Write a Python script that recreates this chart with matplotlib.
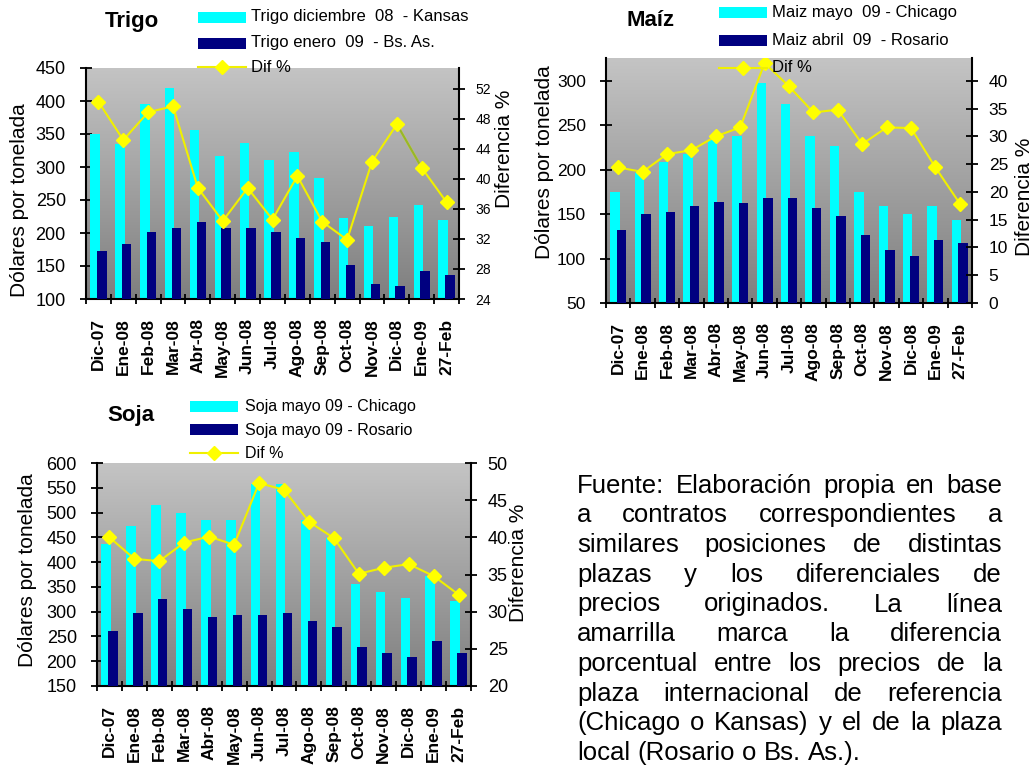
import numpy as np
import matplotlib
matplotlib.use("Agg")
import matplotlib.pyplot as plt
from matplotlib.colors import LinearSegmentedColormap
from matplotlib.patches import Rectangle
from matplotlib.lines import Line2D
from matplotlib.font_manager import FontProperties

plt.rcParams['font.family'] = ['Liberation Sans', 'DejaVu Sans']

# ---------------- data ----------------
categories = ['Dic-07', 'Ene-08', 'Feb-08', 'Mar-08', 'Abr-08', 'May-08', 'Jun-08',
              'Jul-08', 'Ago-08', 'Sep-08', 'Oct-08', 'Nov-08', 'Dic-08', 'Ene-09', '27-Feb']

trigo_kansas = [350, 335, 395, 419, 356, 317, 337, 310, 322, 283, 222, 210, 225, 243, 219]
trigo_bsas = [173, 183, 201, 207, 216, 207, 207, 201, 192, 186, 152, 122, 119, 143, 137]
trigo_dif = [50.3, 45.2, 48.9, 49.7, 38.8, 34.4, 38.8, 34.6, 40.4, 34.3, 31.9, 42.3, 47.3, 41.5, 36.9]

maiz_chicago = [175, 196, 209, 218, 233, 238, 297, 274, 238, 227, 175, 159, 150, 159, 143]
maiz_rosario = [132, 150, 152, 159, 164, 162, 168, 168, 157, 148, 126, 110, 103, 121, 117]
maiz_dif = [24.4, 23.6, 26.8, 27.5, 30.0, 31.6, 43.2, 39.0, 34.3, 34.8, 28.6, 31.6, 31.5, 24.4, 17.9]

soja_chicago = [436, 472, 516, 500, 484, 484, 558, 558, 484, 448, 355, 339, 327, 371, 322]
soja_rosario = [261, 298, 326, 306, 289, 294, 294, 298, 282, 269, 229, 217, 209, 241, 217]
soja_dif = [40.0, 37.1, 36.8, 39.3, 40.1, 39.0, 47.3, 46.4, 42.1, 39.9, 35.1, 35.9, 36.4, 34.8, 32.3]

trigo_left_ticks = list(range(100, 451, 50))
trigo_right_ticks = list(range(24, 53, 4))
maiz_left_ticks = list(range(50, 301, 50))
maiz_right_ticks = list(range(0, 41, 5))
soja_left_ticks = list(range(150, 601, 50))
soja_right_ticks = list(range(20, 51, 5))

trigo_labels = ['Trigo diciembre  08  - Kansas', 'Trigo enero  09  - Bs. As.', 'Dif %']
maiz_labels = ['Maiz mayo  09 - Chicago', 'Maiz abril  09  - Rosario', 'Dif %']
soja_labels = ['Soja mayo 09 - Chicago', 'Soja mayo 09 - Rosario', 'Dif %']

paragraph = ("Fuente: Elaboración propia en base a contratos correspondientes a "
             "similares posiciones de distintas plazas y los diferenciales de "
             "precios originados. La línea amarrilla marca la diferencia "
             "porcentual entre los precios de la plaza internacional de referencia "
             "(Chicago o Kansas) y el de la plaza local (Rosario o Bs. As.).")
paragraph_lines = [
    "Fuente: Elaboración propia en base",
    "a contratos correspondientes a",
    "similares posiciones de distintas",
    "plazas y los diferenciales de",
    "precios originados. La línea",
    "amarrilla marca la diferencia",
    "porcentual entre los precios de la",
    "plaza internacional de referencia",
    "(Chicago o Kansas) y el de la plaza",
    "local (Rosario o Bs. As.).",
]

# ---------------- style ----------------
W, H = 1034, 773
CYAN = '#00ffff'
NAVY = '#000080'
YEL = '#ffff00'
LINE_YEL = '#f0f000'
grad_cmap = LinearSegmentedColormap.from_list('g', ['#c4c4c4', '#7f7f7f'])

fig = plt.figure(figsize=(W / 100, H / 100), dpi=100)


def fx(x):
    return x / W


def fy(y):
    return 1 - y / H


def make_panel(rect, title, title_xy, legend_cfg, chicago, local, dif,
               lticks, rticks, lylim, rylim, lsize, rsize,
               ylab_xy, rlab_xy, olive=None):
    l, t, r, b = rect
    ax = fig.add_axes([fx(l), fy(b), (r - l) / W, (b - t) / H])
    x = np.arange(len(categories))
    ax.imshow(np.linspace(0, 1, 256).reshape(-1, 1), extent=(0, 1, 0, 1),
              transform=ax.transAxes, cmap=grad_cmap, aspect='auto', zorder=0)
    ax.bar(x - 0.135, chicago, width=0.38, color=CYAN, zorder=2)
    ax.bar(x + 0.135, local, width=0.38, color=NAVY, zorder=3)
    ax.set_xlim(-0.5, len(categories) - 0.5)
    ax.set_ylim(*lylim)
    ax.set_yticks(lticks)
    ax.set_xticks(np.arange(-0.5, len(categories), 1))
    ax.set_xticklabels([])
    ax.set_xticks(x, minor=True)
    ax.set_xticklabels(categories, minor=True, rotation=90, fontsize=12.5,
                       fontweight='bold')
    ax.tick_params(axis='x', which='major', direction='inout', length=7, width=1.3)
    ax.tick_params(axis='x', which='minor', length=0, pad=14)
    ax.tick_params(axis='y', direction='inout', length=8, width=1.3, pad=10.5,
                   labelsize=lsize)
    for s in ['top', 'right']:
        ax.spines[s].set_visible(False)
    for s in ['left', 'bottom']:
        ax.spines[s].set_linewidth(1.5)

    ax2 = ax.twinx()
    ax2.plot(x, dif, color=LINE_YEL, lw=1.5, zorder=3)
    if olive is not None:
        i0, i1 = olive
        ax2.plot(x[i0:i1 + 1], dif[i0:i1 + 1], color='#95b52e', lw=1.5, zorder=4)
    ax2.plot(x, dif, ls='none', marker='D', ms=7.5, color=YEL, mec=YEL, zorder=5)
    ax2.set_ylim(*rylim)
    ax2.set_yticks(rticks)
    ax2.tick_params(axis='y', direction='inout', length=8, width=1.3, pad=8,
                    labelsize=rsize)
    for s in ['top', 'left', 'bottom']:
        ax2.spines[s].set_visible(False)
    ax2.spines['right'].set_linewidth(1.5)

    fig.text(fx(title_xy[0]), fy(title_xy[1]), title, fontsize=16, fontweight='bold',
             ha='left', va='center')
    fig.text(fx(ylab_xy[0]), fy(ylab_xy[1]), 'Dólares por tonelada', fontsize=15,
             rotation=90, ha='center', va='center')
    fig.text(fx(rlab_xy[0]), fy(rlab_xy[1]), 'Diferencia %', fontsize=15,
             rotation=90, ha='center', va='center')

    # legend
    px0, px1, ys, tx, labels, lfs = legend_cfg
    for col, yc in zip([CYAN, NAVY], ys[:2]):
        fig.add_artist(Rectangle((fx(px0), fy(yc + 5.5)), (px1 - px0) / W, 11 / H,
                                 transform=fig.transFigure, color=col, lw=0))
    fig.add_artist(Line2D([fx(px0), fx(px1)], [fy(ys[2])] * 2,
                          transform=fig.transFigure, color=LINE_YEL, lw=1.5))
    fig.add_artist(Line2D([fx((px0 + px1) / 2)], [fy(ys[2])], marker='D', ms=7.5,
                          color=YEL, mec=YEL, ls='none', transform=fig.transFigure))
    for lab, yc in zip(labels, ys):
        fig.text(fx(tx), fy(yc), lab, fontsize=lfs, ha='left', va='center')
    return ax, ax2


make_panel((86, 68, 459, 299), 'Trigo', (105, 22),
           (198, 246, (17, 43, 67), 251, trigo_labels, 12),
           trigo_kansas, trigo_bsas, trigo_dif,
           trigo_left_ticks, trigo_right_ticks, (100, 450), (24, 54.8), 13, 10,
           (20, 200), (504, 149), olive=(12, 13))

make_panel((606, 58, 972, 303), 'Maíz', (627, 20),
           (719, 767, (12.5, 40.5, 68), 772, maiz_labels, 12),
           maiz_chicago, maiz_rosario, maiz_dif,
           maiz_left_ticks, maiz_right_ticks, (50, 325.6), (0, 44.1), 12.5, 12.5,
           (545, 162), (1025, 197))

make_panel((97, 463, 471, 686), 'Soja', (107, 415),
           (190, 238, (406, 430, 453), 245, soja_labels, 11.5),
           soja_chicago, soja_rosario, soja_dif,
           soja_left_ticks, soja_right_ticks, (150, 600), (20, 50), 13, 13,
           (28, 570), (518, 563))

# ---------------- justified paragraph ----------------
fp = FontProperties(family=['Liberation Sans', 'DejaVu Sans'], size=18.5)
renderer = fig.canvas.get_renderer()
left_px, right_px = 577, 1002
last_base, spacing = 760, 29.7
n = len(paragraph_lines)
space_w = renderer.get_text_width_height_descent('a a', fp, ismath=False)[0] - \
    renderer.get_text_width_height_descent('aa', fp, ismath=False)[0]
for i, line in enumerate(paragraph_lines):
    words = line.split()
    widths = [renderer.get_text_width_height_descent(w_, fp, ismath=False)[0] for w_ in words]
    base = last_base - (n - 1 - i) * spacing
    if i < n - 1 and len(words) > 1:
        gap = (right_px - left_px - sum(widths)) / (len(words) - 1)
    else:
        gap = space_w
    xcur = left_px
    for w_, wd in zip(words, widths):
        fig.text(fx(xcur), fy(base), w_, fontproperties=fp, ha='left', va='baseline')
        xcur += wd + gap

fig.savefig('out.png', dpi=100)
